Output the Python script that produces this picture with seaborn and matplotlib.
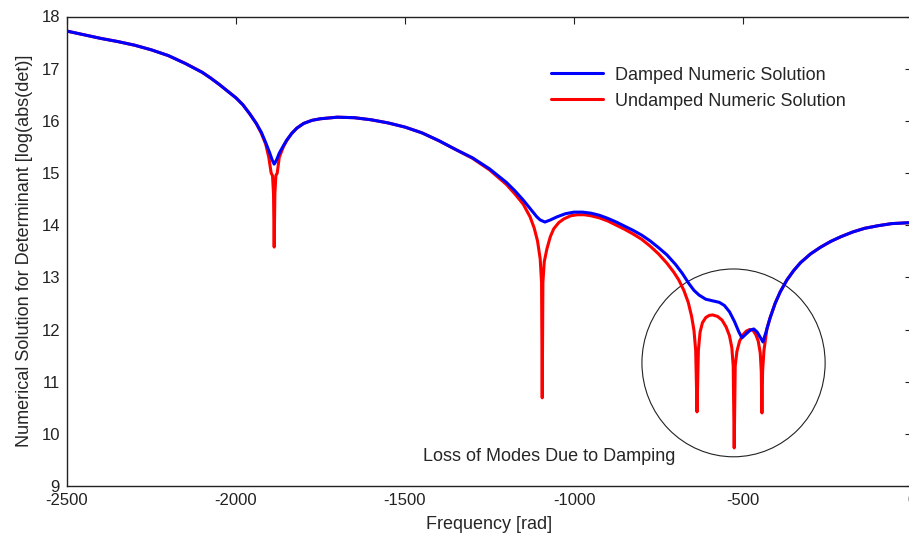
import numpy as np
import pandas as pd
import matplotlib
matplotlib.use("Agg")
import matplotlib.pyplot as plt
from matplotlib.patches import Ellipse
import seaborn as sns

sns.set_style("white")
plt.rcParams['font.family'] = ['Liberation Sans', 'DejaVu Sans']
plt.rcParams['axes.unicode_minus'] = False

# Damped numeric solution (blue)
freq_damped = [-2500, -2450, -2400, -2350, -2300, -2250, -2200, -2150, -2100, -2075,
               -2050, -2025, -2000, -1980, -1960, -1940, -1925, -1912, -1900, -1893,
               -1887, -1880, -1872, -1860, -1850, -1835, -1820, -1800, -1775, -1750,
               -1700, -1650, -1600, -1550, -1500, -1450, -1400, -1350, -1300, -1250,
               -1200, -1175, -1150, -1125, -1110, -1100, -1086, -1070, -1050, -1025,
               -1000, -975, -950, -925, -900, -875, -850, -825, -800, -775,
               -750, -725, -700, -680, -660, -645, -630, -610, -590, -570,
               -555, -540, -525, -512, -503, -490, -478, -468, -458, -448,
               -441, -432, -420, -405, -390, -370, -350, -330, -300, -270,
               -240, -210, -175, -140, -100, -60, -30, 0]
det_damped = [17.72, 17.65, 17.58, 17.52, 17.45, 17.36, 17.25, 17.10, 16.93, 16.82,
              16.70, 16.57, 16.44, 16.31, 16.14, 15.95, 15.78, 15.58, 15.38, 15.25,
              15.17, 15.25, 15.38, 15.52, 15.63, 15.76, 15.86, 15.95, 16.01, 16.04,
              16.07, 16.06, 16.02, 15.96, 15.88, 15.77, 15.62, 15.45, 15.29, 15.08,
              14.82, 14.66, 14.48, 14.28, 14.16, 14.10, 14.06, 14.10, 14.16, 14.22,
              14.25, 14.25, 14.23, 14.19, 14.13, 14.06, 13.98, 13.90, 13.81, 13.70,
              13.57, 13.43, 13.25, 13.08, 12.88, 12.75, 12.66, 12.58, 12.55, 12.52,
              12.46, 12.34, 12.15, 11.95, 11.84, 11.92, 11.99, 12.01, 11.95, 11.84,
              11.76, 11.95, 12.22, 12.50, 12.72, 12.95, 13.13, 13.28, 13.45, 13.58,
              13.69, 13.78, 13.87, 13.94, 13.99, 14.03, 14.04, 14.05]

# Undamped numeric solution (red)
freq_undamped = [-2500, -2450, -2400, -2350, -2300, -2250, -2200, -2150, -2100, -2075,
                 -2050, -2025, -2000, -1980, -1960, -1940, -1925, -1912, -1903, -1896,
                 -1892, -1889, -1887, -1885, -1882, -1878, -1872, -1860, -1850, -1835,
                 -1820, -1800, -1775, -1750, -1700, -1650, -1600, -1550, -1500, -1450,
                 -1400, -1350, -1300, -1250, -1200, -1175, -1150, -1130, -1118, -1108,
                 -1100, -1096, -1094, -1092, -1088, -1080, -1070, -1060, -1045, -1030,
                 -1010, -990, -970, -950, -925, -900, -875, -850, -825, -800,
                 -775, -750, -725, -705, -690, -675, -662, -652, -645, -640,
                 -636, -632, -627, -620, -610, -600, -590, -575, -562, -550,
                 -540, -533, -529, -526, -523, -518, -510, -500, -490, -480,
                 -470, -462, -455, -449, -446, -444, -442, -438, -432, -429,
                 -420, -405, -390, -370, -350, -330, -300, -270, -240, -210,
                 -175, -140, -100, -60, -30, 0]
det_undamped = [17.72, 17.65, 17.58, 17.52, 17.45, 17.36, 17.25, 17.10, 16.93, 16.82,
                16.70, 16.57, 16.44, 16.31, 16.14, 15.95, 15.76, 15.55, 15.30, 15.00,
                14.95, 14.60, 13.58, 14.60, 14.95, 15.00, 15.30, 15.50, 15.62, 15.76,
                15.86, 15.95, 16.01, 16.04, 16.07, 16.06, 16.02, 15.96, 15.88, 15.77,
                15.62, 15.45, 15.28, 15.06, 14.78, 14.60, 14.40, 14.16, 13.95, 13.70,
                13.35, 12.90, 10.69, 12.90, 13.30, 13.55, 13.78, 13.93, 14.05, 14.12,
                14.18, 14.20, 14.20, 14.18, 14.14, 14.08, 14.00, 13.92, 13.83, 13.73,
                13.60, 13.45, 13.27, 13.10, 12.95, 12.75, 12.52, 12.25, 11.98, 11.60,
                10.42, 11.60, 11.95, 12.13, 12.23, 12.27, 12.28, 12.25, 12.18, 12.05,
                11.88, 11.65, 11.30, 9.73, 11.30, 11.58, 11.78, 11.90, 11.97, 12.00,
                11.98, 11.90, 11.78, 11.55, 11.20, 10.40, 11.20, 11.60, 11.88, 12.02,
                12.22, 12.50, 12.72, 12.95, 13.13, 13.28, 13.45, 13.58, 13.69, 13.78,
                13.87, 13.94, 13.99, 14.03, 14.04, 14.05]

df_d = pd.DataFrame({'freq': freq_damped, 'det': det_damped})
df_u = pd.DataFrame({'freq': freq_undamped, 'det': det_undamped})

fig = plt.figure(figsize=(9.09, 5.37), dpi=100)
ax = fig.add_axes([67 / 909, 1 - 486 / 537, 845 / 909, 469.5 / 537])

sns.lineplot(data=df_u, x='freq', y='det', ax=ax, color='#ff0000', linewidth=2.2,
             estimator=None, sort=False, label='Undamped Numeric Solution')
sns.lineplot(data=df_d, x='freq', y='det', ax=ax, color='#0000ff', linewidth=2.2,
             estimator=None, sort=False, label='Damped Numeric Solution')

ax.set_xlim(-2500, 0)
ax.set_ylim(9, 18)
ax.set_xticks([-2500, -2000, -1500, -1000, -500, 0])
ax.set_yticks(range(9, 19))
ax.set_xlabel('Frequency [rad]', fontsize=13, labelpad=6)
ax.set_ylabel('Numerical Solution for Determinant [log(abs(det)]', fontsize=13, labelpad=6)
ax.tick_params(direction='in', length=5, width=0.8, top=True, right=True,
               labelsize=12, colors='#222222', pad=5)
for s in ax.spines.values():
    s.set_color('#222222')
    s.set_linewidth(1)

# circle + note
ax.add_patch(Ellipse((-528, 11.36), 542, 3.6, fill=False, edgecolor='#222222', linewidth=0.8))
ax.text(-1074, 9.56, 'Loss of Modes Due to Damping', ha='center', va='center', fontsize=13)

h, l = ax.get_legend_handles_labels()
ax.legend(h[::-1], l[::-1], loc='upper left', bbox_to_anchor=(0.5535, 0.928),
          frameon=False, fontsize=13, handlelength=2.9, handletextpad=0.67,
          labelspacing=0.5)

fig.savefig('out.png', dpi=100)
